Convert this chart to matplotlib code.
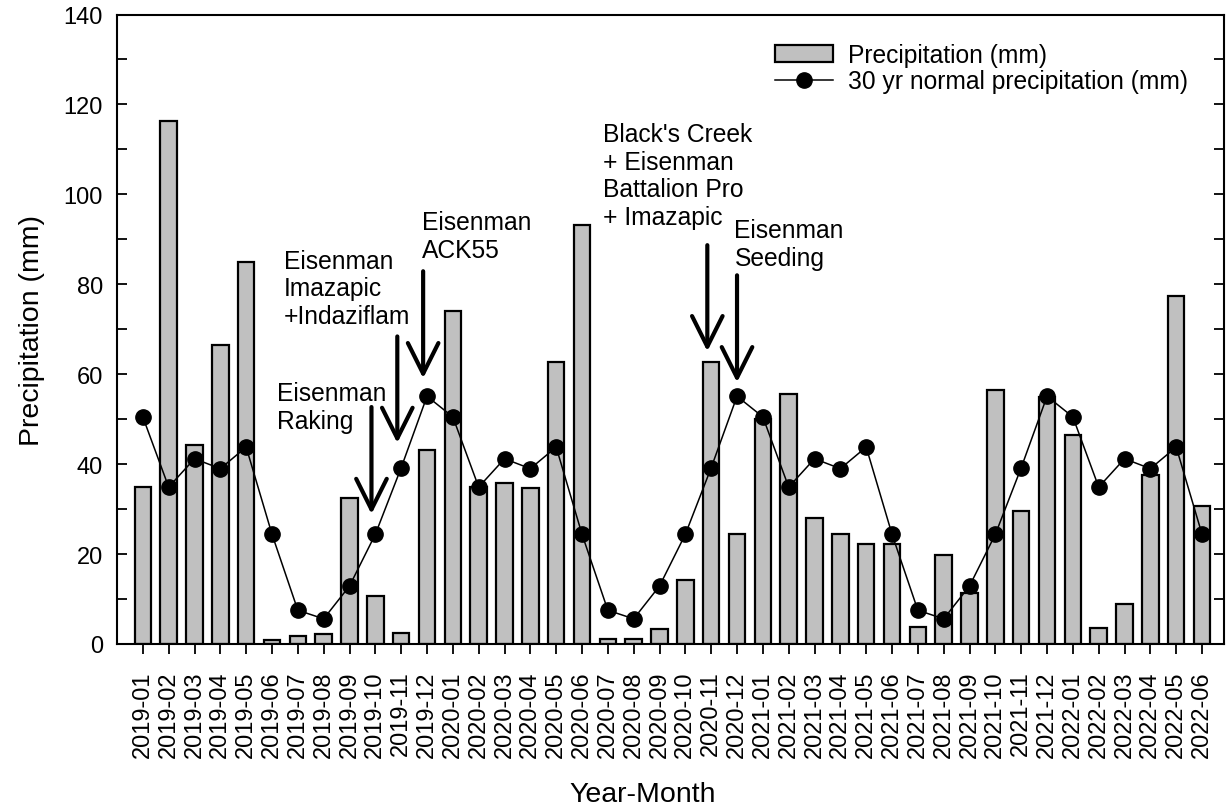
import numpy as np
import matplotlib.pyplot as plt
from matplotlib.ticker import MultipleLocator

plt.rcParams['font.family'] = ['Liberation Sans', 'DejaVu Sans']

# month labels 2019-01 .. 2022-06
months = [f'{y}-{m:02d}' for y in (2019, 2020, 2021, 2022) for m in range(1, 13)][:42]

# monthly precipitation (mm)
precip = [35.0, 116.3, 44.2, 66.5, 85.0, 1.0, 1.8, 2.3, 32.5, 10.6, 2.5, 43.1,
          74.0, 35.0, 35.8, 34.8, 62.7, 93.2, 1.2, 1.2, 3.3, 14.2, 62.7, 24.4,
          50.0, 55.5, 28.1, 24.4, 22.3, 22.3, 3.8, 19.7, 11.4, 56.4, 29.6, 55.0,
          46.4, 3.6, 8.9, 37.6, 77.4, 30.6]

# 30 yr normal precipitation (mm)
normal = [50.5, 34.9, 41.2, 39.0, 43.8, 24.4, 7.5, 5.6, 12.9, 24.4, 39.2, 55.1,
          50.5, 34.9, 41.2, 39.0, 43.8, 24.4, 7.5, 5.6, 12.9, 24.4, 39.2, 55.1,
          50.5, 34.9, 41.2, 39.0, 43.8, 24.4, 7.5, 5.6, 12.9, 24.4, 39.2, 55.1,
          50.5, 34.9, 41.2, 39.0, 43.8, 24.4]

# treatment notes: text, text x, text y (centre), arrow x, arrow top, arrow tip
notes = [
    ('Eisenman\nRaking', 5.18, 52.7, 8.85, 52.7, 28.9),
    ('Eisenman\nImazapic\n+Indaziflam', 5.45, 79.1, 9.85, 68.4, 44.7),
    ('Eisenman\nACK55', 10.8, 90.7, 10.85, 82.9, 59.1),
    ("Black's Creek\n+ Eisenman\nBattalion Pro\n+ Imazapic", 17.83, 104.2, 21.85, 88.7, 65.1),
    ('Eisenman\nSeeding', 22.9, 88.9, 23.0, 82.0, 58.2),
]

fig = plt.figure(figsize=(12.26, 8.12), dpi=100)
ax = fig.add_axes([117 / 1226, 167 / 812, 1107 / 1226, 629.5 / 812])

x = np.arange(len(months))
bars = ax.bar(x, precip, width=0.64, color='#c0c0c0', edgecolor='black', linewidth=1.6,
              label='Precipitation (mm)', zorder=2)
line, = ax.plot(x, normal, '-o', color='black', linewidth=1.1, markersize=11,
                label='30 yr normal precipitation (mm)', zorder=3)

for txt, tx, ty, ax_x, top, tip in notes:
    ax.text(tx, ty, txt, fontsize=17.7, ha='left', va='center', linespacing=1.2)
    ax.annotate('', xy=(ax_x, tip), xytext=(ax_x, top),
                arrowprops=dict(arrowstyle='->,head_length=1.1,head_width=0.55',
                                lw=3, color='black', shrinkA=0, shrinkB=0,
                                mutation_scale=20))

ax.set_xlim(-1.0, 41.85)
ax.set_ylim(0, 140)
ax.yaxis.set_major_locator(MultipleLocator(20))
ax.yaxis.set_minor_locator(MultipleLocator(10))
ax.set_xticks(x)
ax.set_xticklabels(months, rotation=90, fontsize=17)
ax.tick_params(axis='y', which='both', direction='in', length=7, width=1.3,
               left=True, right=True, labelsize=17, pad=10)
ax.tick_params(axis='x', direction='out', length=7, width=1.3, pad=12)
for s in ax.spines.values():
    s.set_linewidth(1.5)

ax.set_xlabel('Year-Month', fontsize=20.5)
ax.xaxis.set_label_coords(0.475, -0.218)
ax.set_ylabel('Precipitation (mm)', fontsize=20.5)
ax.yaxis.set_label_coords(-0.065, 0.5)

ax.legend([bars, line], ['Precipitation (mm)', '30 yr normal precipitation (mm)'],
          loc='upper left', bbox_to_anchor=(775 / 1226, 1 - 44 / 812),
          bbox_transform=fig.transFigure, frameon=False, fontsize=17.7,
          handlelength=2.36, handletextpad=0.6, labelspacing=0.1, borderpad=0,
          borderaxespad=0)

fig.savefig('out.png', dpi=100)
